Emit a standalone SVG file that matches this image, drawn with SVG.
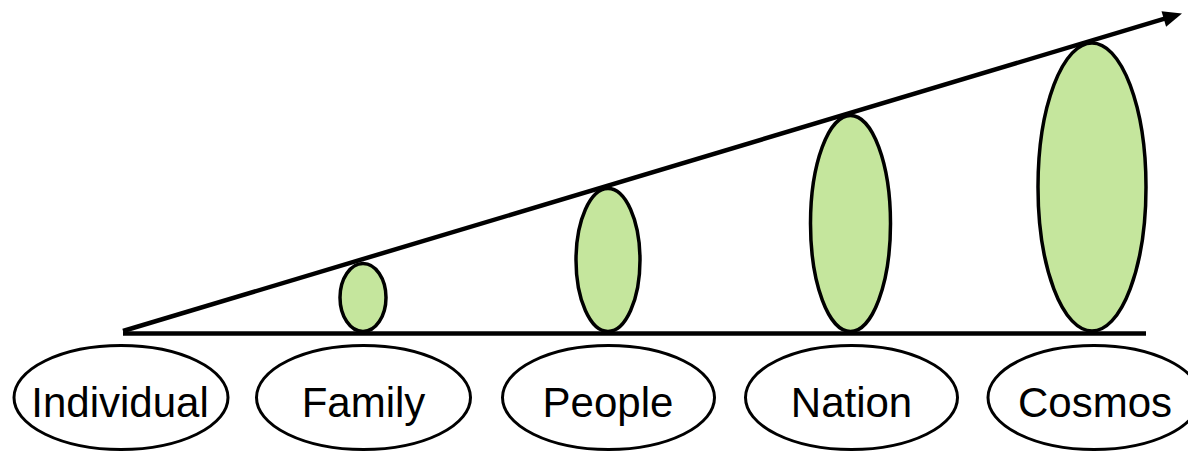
<svg xmlns="http://www.w3.org/2000/svg" width="1188" height="451" viewBox="0 0 1188 451">
<defs>
<style>
.lbl{fill:#fff;stroke:#000;stroke-width:3}
.blob{fill:#c5e69d;stroke:#000;stroke-width:3.5}
.t{font-family:"Liberation Sans",Arial,sans-serif;font-size:42px;fill:#000;text-anchor:middle}
.ln{stroke:#000;stroke-width:4.5;fill:none}
</style>
</defs>
<rect width="1188" height="451" fill="#fff"/>
<g id="blob-family"><ellipse class="blob" cx="363" cy="297.5" rx="23" ry="34"/></g>
<g id="blob-people"><ellipse class="blob" cx="608" cy="260" rx="32" ry="71.5"/></g>
<g id="blob-nation"><ellipse class="blob" cx="850.5" cy="223.5" rx="40" ry="108"/></g>
<g id="blob-cosmos"><ellipse class="blob" cx="1092" cy="187" rx="54" ry="144"/></g>
<g id="connectors">
<line class="ln" x1="123" y1="333.5" x2="1146" y2="333.5"/>
<line class="ln" x1="123" y1="331" x2="1168" y2="17.7"/>
<polygon points="1182,13.5 1166.1,26.7 1161.5,11.3" fill="#000"/>
</g>
<g id="individual"><ellipse class="lbl" cx="121" cy="397.5" rx="107" ry="52"/><text class="t" x="120" y="417">Individual</text></g>
<g id="family"><ellipse class="lbl" cx="363.5" cy="397.5" rx="107" ry="52"/><text class="t" x="363.5" y="417">Family</text></g>
<g id="people"><ellipse class="lbl" cx="608.5" cy="397.5" rx="106" ry="52"/><text class="t" x="608" y="417">People</text></g>
<g id="nation"><ellipse class="lbl" cx="851.5" cy="397.5" rx="106" ry="52"/><text class="t" x="851.5" y="417">Nation</text></g>
<g id="cosmos"><ellipse class="lbl" cx="1094" cy="397.5" rx="106" ry="52"/><text class="t" x="1095" y="417">Cosmos</text></g>
</svg>
